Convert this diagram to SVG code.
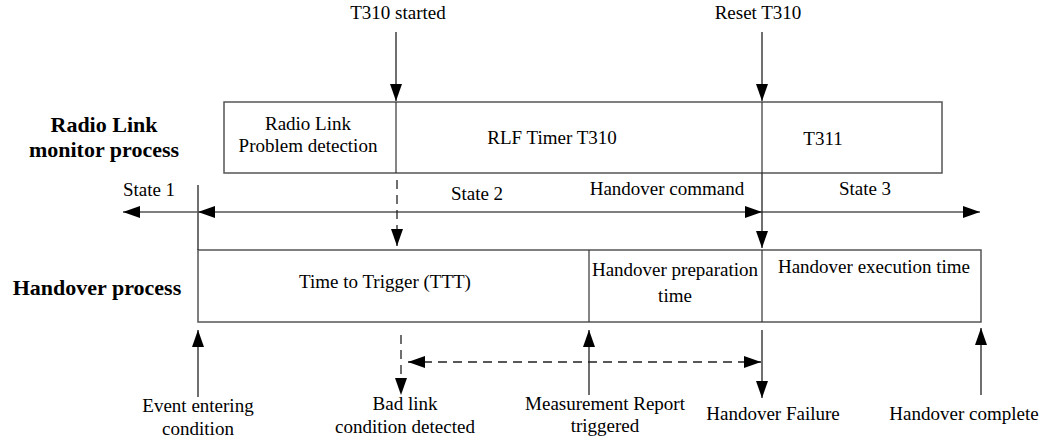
<svg xmlns="http://www.w3.org/2000/svg" width="1044" height="445" viewBox="0 0 1044 445" font-family="'Liberation Serif', 'DejaVu Serif', serif">
  <style>
    .t { font-family: 'Liberation Serif', 'DejaVu Serif', serif; font-size: 19px; text-anchor: middle; fill: #000; }
    .b { font-family: 'Liberation Serif', 'DejaVu Serif', serif; font-size: 22px; font-weight: bold; text-anchor: middle; fill: #000; }
    .box { fill: #fff; stroke: #555; stroke-width: 1.5; }
    .div { stroke: #333; stroke-width: 1.2; fill: none; }
    .ln { stroke: #222; stroke-width: 1.3; fill: none; }
    .axis { stroke: #555; stroke-width: 1.5; fill: none; }
    .dash { stroke: #222; stroke-width: 1.3; fill: none; stroke-dasharray: 9 6; }
  </style>
  <defs>
    <marker id="head" viewBox="0 0 17 12" refX="17" refY="6" markerWidth="17" markerHeight="12" markerUnits="userSpaceOnUse" orient="auto-start-reverse">
      <path d="M0,0 L17,6 L0,12 Z" fill="#000"/>
    </marker>
  </defs>

  <rect width="1044" height="445" fill="#fff"/>

  <!-- row titles -->
  <g id="title-rlm">
    <text class="b" x="104" y="132">Radio Link</text>
    <text class="b" x="104" y="157">monitor process</text>
  </g>
  <g id="title-ho">
    <text class="b" x="97" y="295">Handover process</text>
  </g>

  <!-- radio link monitoring timeline -->
  <g id="rlm-box">
    <rect class="box" x="224" y="102" width="718" height="71"/>
    <line class="div" x1="396" y1="102" x2="396" y2="173"/>
    <line class="div" x1="762" y1="102" x2="762" y2="173"/>
    <text class="t" x="308" y="130">Radio Link</text>
    <text class="t" x="308" y="152">Problem detection</text>
    <text class="t" x="552" y="144">RLF Timer T310</text>
    <text class="t" x="823" y="145">T311</text>
  </g>

  <!-- handover timeline -->
  <g id="ho-box">
    <rect class="box" x="198" y="250" width="783" height="72"/>
    <line class="div" x1="589" y1="250" x2="589" y2="322"/>
    <line class="div" x1="762" y1="250" x2="762" y2="322"/>
    <text class="t" x="385" y="288">Time to Trigger (TTT)</text>
    <text class="t" x="675" y="276">Handover preparation</text>
    <text class="t" x="675" y="302">time</text>
    <text class="t" x="874" y="273">Handover execution time</text>
  </g>

  <!-- event labels -->
  <g id="labels">
    <text class="t" x="398" y="19">T310 started</text>
    <text class="t" x="758" y="19">Reset T310</text>
    <text class="t" x="149" y="196">State 1</text>
    <text class="t" x="477" y="200">State 2</text>
    <text class="t" x="667" y="195">Handover command</text>
    <text class="t" x="865" y="195">State 3</text>
    <text class="t" x="198" y="412">Event entering</text>
    <text class="t" x="198" y="435">condition</text>
    <text class="t" x="405" y="410">Bad link</text>
    <text class="t" x="405" y="433">condition detected</text>
    <text class="t" x="605" y="410">Measurement Report</text>
    <text class="t" x="605" y="432">triggered</text>
    <text class="t" x="773" y="420">Handover Failure</text>
    <text class="t" x="964" y="420">Handover complete</text>
  </g>

  <!-- connectors -->
  <g id="connectors">
    <!-- timer triggers -->
    <line class="ln" x1="396" y1="32" x2="396" y2="101" marker-end="url(#head)"/>
    <line class="ln" x1="762" y1="32" x2="762" y2="101" marker-end="url(#head)"/>
    <!-- state axis -->
    <line class="ln" x1="198" y1="185" x2="198" y2="250"/>
    <line class="axis" x1="198" y1="212" x2="123" y2="212" marker-end="url(#head)"/>
    <line class="axis" x1="198" y1="212" x2="762" y2="212" marker-start="url(#head)" marker-end="url(#head)"/>
    <line class="axis" x1="762" y1="212" x2="980" y2="212" marker-end="url(#head)"/>
    <!-- links between the two timelines -->
    <line class="dash" x1="397" y1="180" x2="397" y2="246" marker-end="url(#head)"/>
    <line class="ln" x1="762" y1="173" x2="762" y2="248" marker-end="url(#head)"/>
    <!-- events below the handover timeline -->
    <line class="ln" x1="198" y1="397" x2="198" y2="330" marker-end="url(#head)"/>
    <line class="dash" x1="401" y1="335" x2="401" y2="395" marker-end="url(#head)"/>
    <line class="dash" x1="408" y1="362" x2="761" y2="362" marker-start="url(#head)" marker-end="url(#head)"/>
    <line class="ln" x1="589" y1="395" x2="589" y2="330" marker-end="url(#head)"/>
    <line class="ln" x1="762" y1="330" x2="762" y2="398" marker-end="url(#head)"/>
    <line class="ln" x1="981" y1="395" x2="981" y2="328" marker-end="url(#head)"/>
  </g>
</svg>
